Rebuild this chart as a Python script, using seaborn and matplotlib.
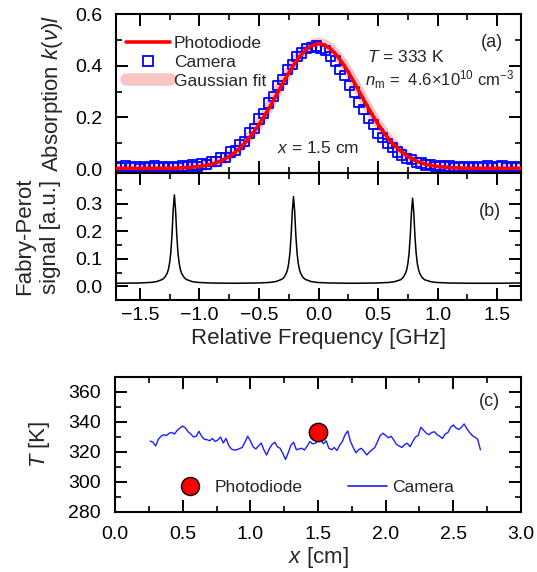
import numpy as np
import pandas as pd
import matplotlib
matplotlib.use("Agg")
import matplotlib.pyplot as plt
from matplotlib.lines import Line2D
from matplotlib.ticker import MultipleLocator, FixedLocator
import seaborn as sns

# ---------------- data ----------------
# (a) absorption, photodiode (sampled every 0.05 GHz from -1.7 to 1.7)
photodiode_k = [0.003] * 10 + [
    0.004, 0.005, 0.006, 0.008, 0.010, 0.014, 0.019, 0.026, 0.036, 0.049,
    0.065, 0.086, 0.110, 0.139, 0.172, 0.208, 0.248, 0.290, 0.332, 0.372,
    0.409, 0.440, 0.464, 0.479,
    0.485,
    0.480, 0.466, 0.442, 0.411, 0.375, 0.335, 0.293, 0.251, 0.211, 0.174,
    0.140, 0.111, 0.086, 0.066, 0.049, 0.036, 0.026, 0.019, 0.014, 0.010,
    0.008, 0.006, 0.005, 0.004] + [0.003] * 10

# (a) Gaussian fit (same grid)
fit_k = [0.002] * 10 + [
    0.003, 0.004, 0.005, 0.007, 0.010, 0.013, 0.019, 0.026, 0.036, 0.050,
    0.066, 0.087, 0.112, 0.141, 0.175, 0.212, 0.252, 0.295, 0.337, 0.377,
    0.414, 0.445, 0.469, 0.484,
    0.490,
    0.484, 0.469, 0.445, 0.414, 0.377, 0.337, 0.295, 0.252, 0.212, 0.175,
    0.141, 0.112, 0.087, 0.066, 0.050, 0.036, 0.026, 0.019, 0.013, 0.010,
    0.007, 0.005, 0.004, 0.003] + [0.002] * 10

# (a) camera (sampled every 0.04 GHz from -1.7 to 1.7)
camera_k = [
    0.010, 0.004, 0.012, 0.006, 0.009, 0.003, 0.011, 0.007, 0.013, 0.005,
    0.009, 0.004, 0.010, 0.006, 0.012, 0.008, 0.016, 0.011, 0.020, 0.017,
    0.030, 0.028, 0.044, 0.046, 0.066, 0.072, 0.096, 0.108, 0.140, 0.158,
    0.194, 0.215, 0.256, 0.281, 0.322, 0.347, 0.386, 0.405, 0.437, 0.449,
    0.468, 0.470, 0.476, 0.466, 0.458, 0.436, 0.418, 0.386, 0.362, 0.324,
    0.298, 0.258, 0.232, 0.195, 0.172, 0.138, 0.122, 0.098, 0.084, 0.066,
    0.055, 0.042, 0.036, 0.026, 0.024, 0.016, 0.018, 0.010, 0.014, 0.008,
    0.012, 0.006, 0.011, 0.005, 0.010, 0.004, 0.009, 0.006, 0.012, 0.005,
    0.009, 0.014, 0.007, 0.011, 0.006, 0.010]

# (b) Fabry-Perot signal
fp_freq = [
    -1.70, -1.51, -1.41, -1.36, -1.31, -1.29, -1.27, -1.26, -1.25, -1.24,
    -1.23, -1.22, -1.21, -1.20, -1.19, -1.18, -1.17, -1.16, -1.15, -1.13,
    -1.11, -1.06, -1.01, -0.91, -0.71,
    -0.51, -0.41, -0.36, -0.31, -0.29, -0.27, -0.26, -0.25, -0.24, -0.23,
    -0.22, -0.21, -0.20, -0.19, -0.18, -0.17, -0.16, -0.15, -0.13, -0.11,
    -0.06, -0.01, 0.09, 0.29,
    0.49, 0.59, 0.64, 0.69, 0.71, 0.73, 0.74, 0.75, 0.76, 0.77,
    0.78, 0.79, 0.80, 0.81, 0.82, 0.83, 0.84, 0.85, 0.87, 0.89,
    0.94, 0.99, 1.09, 1.29, 1.50, 1.70]
fp_signal = [
    0.011, 0.012, 0.014, 0.017, 0.025, 0.033, 0.048, 0.062, 0.085, 0.123,
    0.187, 0.278, 0.333, 0.278, 0.187, 0.123, 0.085, 0.062, 0.048, 0.033,
    0.025, 0.017, 0.014, 0.012, 0.011,
    0.012, 0.014, 0.017, 0.025, 0.032, 0.048, 0.061, 0.084, 0.121, 0.184,
    0.273, 0.327, 0.273, 0.184, 0.121, 0.084, 0.061, 0.048, 0.032, 0.025,
    0.017, 0.014, 0.012, 0.011,
    0.012, 0.014, 0.017, 0.024, 0.032, 0.047, 0.060, 0.082, 0.119, 0.180,
    0.268, 0.321, 0.268, 0.180, 0.119, 0.082, 0.060, 0.047, 0.032, 0.024,
    0.017, 0.014, 0.012, 0.011, 0.011, 0.012]

# (c) temperature profile from camera (every 0.02 cm from 0.26 to 2.70)
camera_T = [
    327.3, 326.5, 324.0, 328.5, 330.5, 331.5, 331.0, 332.5, 333.0, 332.0,
    334.5, 336.0, 337.3, 336.0, 333.5, 332.0, 330.0, 330.5, 333.8, 330.5,
    328.5, 328.2, 327.5, 329.0, 327.0, 328.0, 330.0, 326.0, 329.0, 324.5,
    322.0, 321.3, 321.5, 322.3, 323.0, 326.5, 330.5, 327.5, 323.5, 322.0,
    324.0, 326.0, 321.5, 318.0, 322.0, 325.0, 326.5, 323.5, 322.5, 319.0,
    315.0, 319.5, 324.5, 326.5, 321.5, 322.0, 322.5, 321.3, 324.0, 326.9,
    325.5, 325.8, 327.5, 328.0, 325.5, 327.5, 322.5, 321.5, 323.0, 321.0,
    324.5, 327.0, 331.5, 334.0, 327.0, 323.0, 319.5, 321.5, 322.5, 320.5,
    318.0, 320.0, 321.5, 323.0, 327.0, 331.0, 332.5, 331.0, 329.5, 330.5,
    328.0, 325.0, 324.0, 323.0, 325.0, 325.8, 323.5, 327.0, 330.0, 331.0,
    336.5, 334.5, 332.5, 331.5, 333.0, 333.5, 331.5, 330.5, 329.0, 332.0,
    333.0, 336.5, 338.0, 336.0, 335.0, 336.5, 338.7, 335.5, 333.0, 331.0,
    329.8, 328.5, 321.5]
photodiode_x = [1.50]
photodiode_T = [333.0]

freq_pd = np.linspace(-1.7, 1.7, len(photodiode_k))
freq_cam = np.linspace(-1.7, 1.7, len(camera_k))
pos_cam = np.linspace(0.26, 2.70, len(camera_T))

df_pd = pd.DataFrame({"f": freq_pd, "k": photodiode_k, "fit": fit_k})
df_cam = pd.DataFrame({"f": freq_cam, "k": camera_k})
df_fp = pd.DataFrame({"f": fp_freq, "s": fp_signal})
df_T = pd.DataFrame({"x": pos_cam, "T": camera_T})
df_pt = pd.DataFrame({"x": photodiode_x, "T": photodiode_T})

# ---------------- style ----------------
sns.set_theme(style="ticks")
plt.rcParams["font.family"] = ["Liberation Sans", "DejaVu Sans"]
plt.rcParams["mathtext.fontset"] = "custom"
plt.rcParams["mathtext.rm"] = "Liberation Sans"
plt.rcParams["mathtext.it"] = "Liberation Sans:italic"
plt.rcParams["mathtext.bf"] = "Liberation Sans:bold"
plt.rcParams["axes.linewidth"] = 1.5

RED = "#ff0000"
BLUE = "#0000ff"
PINK = "#f8c4c4"
TICK_FS = 14
LAB_FS = 16
TXT_FS = 12.5

W, H = 537, 572
fig = plt.figure(figsize=(W / 100, H / 100), dpi=100)


def ax_rect(l, r, t, b):
    return [l / W, 1 - b / H, (r - l) / W, (b - t) / H]


ax_a = fig.add_axes(ax_rect(116, 521, 14, 173))
ax_b = fig.add_axes(ax_rect(116, 521, 173, 300))
ax_c = fig.add_axes(ax_rect(115, 521, 377, 512))


def style_ticks(ax, xpad=5, ypad=10):
    ax.tick_params(which="both", direction="in", top=True, right=True,
                   colors="black", labelsize=TICK_FS)
    ax.tick_params(which="major", length=8.5, width=1.4)
    ax.tick_params(which="minor", length=4.5, width=1.2)
    ax.tick_params(axis="x", pad=xpad)
    ax.tick_params(axis="y", pad=ypad)
    for s in ax.spines.values():
        s.set_linewidth(1.5)
        s.set_color("black")


# ---- (a) ----
sns.lineplot(data=df_pd, x="f", y="fit", ax=ax_a, color=PINK, lw=7,
             estimator=None, sort=False, zorder=1,
             solid_capstyle="round")
sns.scatterplot(data=df_cam, x="f", y="k", ax=ax_a, marker="s", s=44,
                facecolor="none", edgecolor=BLUE, linewidth=1.3, zorder=2)
sns.lineplot(data=df_pd, x="f", y="k", ax=ax_a, color=RED, lw=2.6,
             estimator=None, sort=False, zorder=3)
ax_a.set_xlim(-1.7, 1.7)
ax_a.set_ylim(-0.015, 0.6)
ax_a.xaxis.set_major_locator(MultipleLocator(0.5))
ax_a.xaxis.set_minor_locator(MultipleLocator(0.25))
ax_a.yaxis.set_major_locator(MultipleLocator(0.2))
ax_a.yaxis.set_minor_locator(MultipleLocator(0.1))
style_ticks(ax_a)
ax_a.tick_params(axis="x", labelbottom=False)
ax_a.set_xlabel("")
ax_a.set_ylabel(r"Absorption $k(\nu)l$", fontsize=LAB_FS)
ax_a.yaxis.set_label_coords(-0.125, 0.5)

handles_a = [
    Line2D([], [], color=RED, lw=2.6),
    Line2D([], [], marker="s", ls="none", markersize=7, mfc="none",
           mec=BLUE, mew=1.3),
    Line2D([], [], color=PINK, lw=9, solid_capstyle="round"),
]
ax_a.legend(handles_a, ["Photodiode", "Camera", "Gaussian fit"],
            loc="upper left", bbox_to_anchor=(0.025, 0.865), frameon=False,
            fontsize=TXT_FS, handlelength=2.5, handletextpad=0.25,
            labelspacing=0.22, borderaxespad=0, borderpad=0)
ax_a.text(0.928, 0.82, "(a)", transform=ax_a.transAxes, fontsize=TXT_FS + 0.5,
          ha="center", va="center")
ax_a.text(0.62, 0.73, r"$T$ = 333 K", transform=ax_a.transAxes,
          fontsize=TXT_FS, ha="left", va="center")
ax_a.text(0.615, 0.585, r"$n_\mathrm{m}$ =  4.6×10$^{10}$ cm$^{-3}$",
          transform=ax_a.transAxes, fontsize=12, ha="left", va="center")
ax_a.text(0.397, 0.157, r"$x$ = 1.5 cm", transform=ax_a.transAxes,
          fontsize=TXT_FS, ha="left", va="center")

# ---- (b) ----
sns.lineplot(data=df_fp, x="f", y="s", ax=ax_b, color="black", lw=1.1,
             estimator=None, sort=False)
ax_b.set_xlim(-1.7, 1.7)
ax_b.set_ylim(-0.05, 0.413)
ax_b.xaxis.set_major_locator(MultipleLocator(0.5))
ax_b.xaxis.set_minor_locator(MultipleLocator(0.25))
ax_b.yaxis.set_major_locator(FixedLocator([0.0, 0.1, 0.2, 0.3]))
ax_b.yaxis.set_minor_locator(FixedLocator([-0.05, 0.05, 0.15, 0.25, 0.35]))
style_ticks(ax_b, xpad=5)
ax_b.set_xlabel("Relative Frequency [GHz]", fontsize=LAB_FS)
ax_b.xaxis.set_label_coords(0.5, -0.22)
ax_b.set_ylabel("Fabry-Perot\nsignal [a.u.]", fontsize=LAB_FS,
                multialignment="center", linespacing=1.3)
ax_b.yaxis.set_label_coords(-0.135, 0.5)
ax_b.text(0.923, 0.70, "(b)", transform=ax_b.transAxes, fontsize=TXT_FS + 0.5,
          ha="center", va="center")

# ---- (c) ----
sns.lineplot(data=df_T, x="x", y="T", ax=ax_c, color="#1e1eff", lw=1.0,
             estimator=None, sort=False, zorder=2)
sns.scatterplot(data=df_pt, x="x", y="T", ax=ax_c, s=175, color=RED,
                edgecolor="black", linewidth=1.0, zorder=3)
ax_c.set_xlim(0.0, 3.0)
ax_c.set_ylim(280, 370)
ax_c.xaxis.set_major_locator(MultipleLocator(0.5))
ax_c.xaxis.set_minor_locator(MultipleLocator(0.25))
ax_c.yaxis.set_major_locator(MultipleLocator(20))
ax_c.yaxis.set_minor_locator(MultipleLocator(10))
style_ticks(ax_c, xpad=10)
ax_c.set_xlabel(r"$x$ [cm]", fontsize=LAB_FS)
ax_c.xaxis.set_label_coords(0.5, -0.245)
ax_c.set_ylabel(r"$T$ [K]", fontsize=LAB_FS)
ax_c.yaxis.set_label_coords(-0.155, 0.5)
ax_c.text(0.923, 0.815, "(c)", transform=ax_c.transAxes, fontsize=TXT_FS + 0.5,
          ha="center", va="center")

handles_c = [
    Line2D([], [], marker="o", ls="none", markersize=13, mfc=RED,
           mec="black", mew=1.0),
    Line2D([], [], color="#1e1eff", lw=1.2),
]
ax_c.legend(handles_c, ["Photodiode", "Camera"], loc="center left",
            bbox_to_anchor=(0.137, 0.185), ncol=2, frameon=False,
            fontsize=TXT_FS, handlelength=2.25, handletextpad=0.3,
            columnspacing=2.6, borderaxespad=0, borderpad=0)

fig.savefig("out.png", dpi=100)
